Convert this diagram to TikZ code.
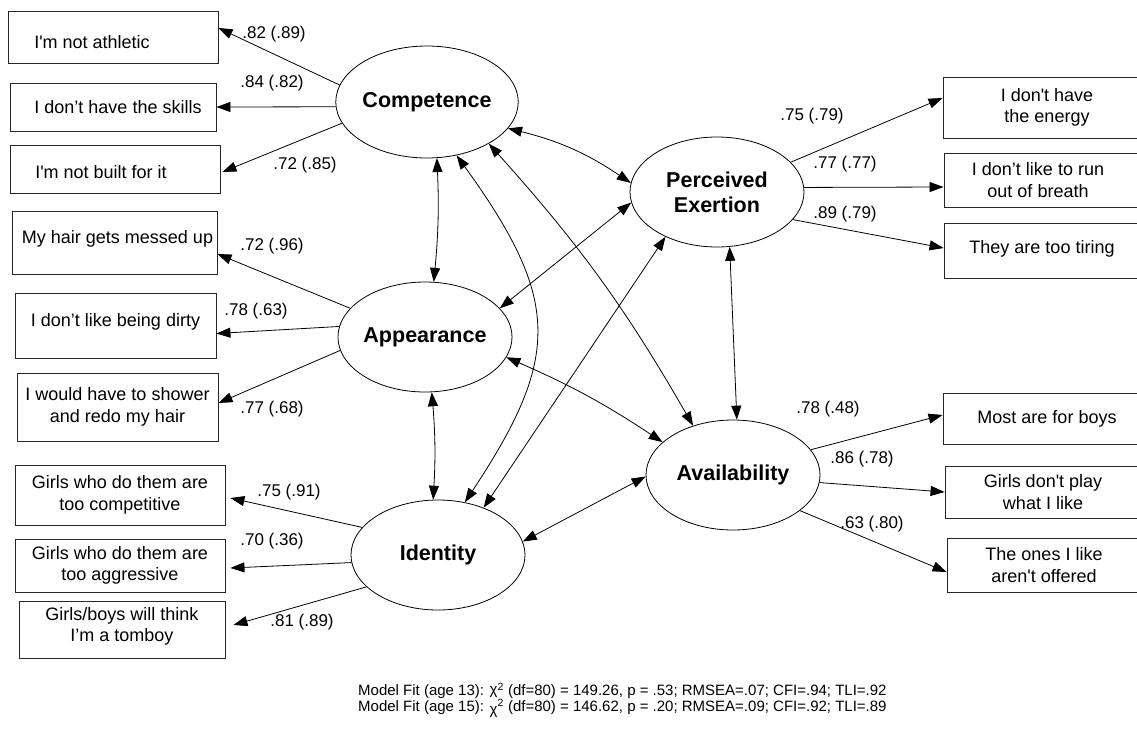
\documentclass[tikz,border=0pt]{standalone}
\usepackage{fontspec}
\setmainfont{Liberation Sans}[Ligatures=TeXOff]
\usetikzlibrary{shapes.geometric,arrows.meta,calc}
\tikzset{
  lat/.style={draw, ellipse, line width=0.8pt, minimum width=174pt, minimum height=110pt, inner sep=0pt, align=center, font=\fontsize{21.5}{25}\selectfont\bfseries},
  box/.style={draw=black!85, line width=0.9pt, inner sep=0pt},
  btxt/.style={font=\fontsize{18}{21.5}\selectfont, align=center, inner sep=0pt},
  lab/.style={font=\fontsize{17}{20}\selectfont, inner sep=0pt},
  tip/.tip={Triangle[length=14pt,width=10pt]},
  load/.style={-tip, line width=0.8pt},
  cov/.style={tip-tip, line width=0.8pt}
}
\begin{document}
\begin{tikzpicture}[x=1pt,y=1pt]
\useasboundingbox (0,0) rectangle (1137,-728);
\fill[white] (0,0) rectangle (1137,-728);
\clip (0,0) rectangle (1137,-728);

% latent variables
\node[lat, minimum height=112pt] (comp) at (427,-102) {Competence};
\node[lat] (per) at (717,-192) {Perceived\\Exertion};
\node[lat] (app) at (425,-337) {Appearance};
\node[lat] (iden) at (438,-555) {Identity};
\node[lat] (av) at (733,-475) {Availability};

% left indicator boxes
\node[box, minimum width=210pt, minimum height=52pt, label={[btxt,xshift=-21pt,yshift=-5pt]center:I'm not athletic}] (b1) at (113,-37) {};
\node[box, minimum width=206pt, minimum height=48pt, label={[btxt,xshift=5pt]center:I don’t have the skills}] (b2) at (113,-107) {};
\node[box, minimum width=210pt, minimum height=48pt, label={[btxt,xshift=-14pt,yshift=-3pt]center:I'm not built for it}] (b3) at (115,-169) {};
\node[box, minimum width=205pt, minimum height=63pt, label={[btxt,xshift=3pt,yshift=4pt]center:My hair gets messed up}] (b4) at (114.5,-242.5) {};
\node[box, minimum width=201pt, minimum height=65pt, label={[btxt,yshift=4pt]center:I don’t like being dirty}] (b5) at (115.5,-325.5) {};
\node[box, minimum width=201pt, minimum height=68pt, label={[btxt]center:I would have to shower\\and redo my hair}] (b6) at (117.5,-407) {};
\node[box, minimum width=210pt, minimum height=60pt, label={[btxt]center:Girls who do them are\\too competitive}] (b7) at (120,-495) {};
\node[box, minimum width=210pt, minimum height=53pt, label={[btxt]center:Girls who do them are\\too aggressive}] (b8) at (120,-565.5) {};
\node[box, minimum width=206pt, minimum height=57pt, label={[btxt,yshift=3pt]center:Girls/boys will think\\I’m a tomboy}] (b9) at (122,-629.5) {};

% right indicator boxes
\node[box, minimum width=208pt, minimum height=61pt, label={[btxt]center:I don't have\\the energy}] (r1) at (1047,-107.5) {};
\node[box, minimum width=208pt, minimum height=54pt, label={[btxt,xshift=-10pt]center:I don’t like to run\\out of breath}] (r2) at (1048,-180) {};
\node[box, minimum width=208pt, minimum height=55pt, label={[btxt,xshift=-6pt,yshift=2pt]center:They are too tiring}] (r3) at (1048,-250.5) {};
\node[box, minimum width=208pt, minimum height=51pt, label={[btxt]center:Most are for boys}] (r4) at (1047,-418.5) {};
\node[box, minimum width=208pt, minimum height=52pt, label={[btxt,xshift=-6pt]center:Girls don't play\\what I like}] (r5) at (1049,-492) {};
\node[box, minimum width=208pt, minimum height=54pt, label={[btxt,xshift=-7pt]center:The ones I like\\aren't offered}] (r6) at (1051,-565) {};

% loadings
\draw[load] (comp.169) -- ([yshift=9pt]b1.east);
\draw[load] (comp.183) -- (b2.east);
\draw[load] (comp.194) -- ([xshift=2pt,yshift=-3pt]b3.east);
\draw[load] (app.159) -- ([yshift=-11.5pt]b4.east);
\draw[load] (app.173) -- ([yshift=-8pt]b5.east);
\draw[load] (app.189) -- ([yshift=4pt]b6.east);
\draw[load] (iden.160) -- ([xshift=5pt,yshift=-3pt]b7.east);
\draw[load] (iden.185) -- ([xshift=5pt,yshift=-2.5pt]b8.east);
\draw[load] (iden.204) -- ([xshift=8pt,yshift=4.5pt]b9.east);
\draw[load] (per.22) -- ([yshift=9.5pt]r1.west);
\draw[load] (per.3) -- ([yshift=-7pt]r2.west);
\draw[load] (per.340) -- ([yshift=2.5pt]r3.west);
\draw[load] (av.18) -- ([yshift=3.5pt]r4.west);
\draw[load] (av.355) -- (r5.west);
\draw[load] (av.332) -- ([yshift=-7pt]r6.west);

% loading labels
\node[lab] (l1) at (274,-34) {.82 (.89)};
\node[lab] (l2) at (272,-83) {.84 (.82)};
\node[lab] (l3) at (305,-165) {.72 (.85)};
\node[lab] (l4) at (272,-246) {.72 (.96)};
\node[lab] (l5) at (256,-311) {.78 (.63)};
\node[lab] (l6) at (272,-409) {.77 (.68)};
\node[lab] (l7) at (289,-492) {.75 (.91)};
\node[lab] (l8) at (272,-541) {.70 (.36)};
\node[lab] (l9) at (302,-622) {.81 (.89)};
\node[lab] (l10) at (812,-116) {.75 (.79)};
\node[lab] (l11) at (845,-164) {.77 (.77)};
\node[lab] (l12) at (845,-214) {.89 (.79)};
\node[lab] (l13) at (828,-409) {.78 (.48)};
\node[lab] (l14) at (862,-459) {.86 (.78)};
\node[lab] (l15) at (872,-524) {.63 (.80)};

% covariances
\draw[cov] (comp.280) to[bend left=4] (app.81);
\draw[cov] (comp.342) to[bend left=10] (per.174);
\draw[cov] (comp.299) .. controls (561,-300) and (561,-357) .. (iden.63);
\draw[cov] (comp.326) to[bend left=6] (av.129);
\draw[cov] (per.187) -- (app.21);
\draw[cov] (per.221) -- (iden.46);
\draw[cov] (per.283) -- (av.86);
\draw[cov] (app.346) to[bend left=5] (av.155);
\draw[cov] (app.277) to[bend left=4] (iden.95);
\draw[cov] (iden.9) -- (av.181);

% model fit
\node[font=\fontsize{15}{16}\selectfont, align=left, anchor=west, inner sep=0pt] (fit) at (358,-700)
{Model Fit (age 13): \raisebox{1pt}{χ}\textsuperscript{2} (df=80) = 149.26, p = .53; RMSEA=.07; CFI=.94; TLI=.92\\
Model Fit (age 15): \raisebox{-3pt}{χ}\textsuperscript{2} (df=80) = 146.62, p = .20; RMSEA=.09; CFI=.92; TLI=.89};
\end{tikzpicture}
\end{document}
